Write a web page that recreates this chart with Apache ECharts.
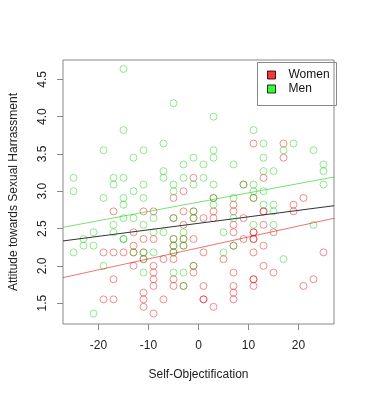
<!DOCTYPE html>
<html><head><meta charset="utf-8">
<script src="https://cdn.jsdelivr.net/npm/echarts@6/dist/echarts.min.js"></script>
<style>html,body{margin:0;padding:0;background:#fff}#c{width:365px;height:400px}</style>
</head><body><div id="c"></div>
<script>
const seriesNames = ['Women', 'Men'];
const womenPoints = [
  [11,3.64],[17,3.64],
  [17,3.45],
  [-1,3.18],[13,3.18],
  [9,3.09],
  [-3,3.00],
  [-5,2.91],[3,2.91],[11,2.91],[21,2.91],
  [7,2.82],[19,2.82],
  [-17,2.73],[-11,2.73],[-9,2.73],[-3,2.73],[-1,2.73],[3,2.73],[7,2.73],[13,2.73],[13,2.73],[19,2.73],
  [-5,2.64],[-1,2.64],[1,2.64],[3,2.64],[9,2.64],
  [-3,2.55],[7,2.55],[13,2.55],
  [-13,2.45],[7,2.45],[11,2.45],[11,2.45],[15,2.45],
  [-11,2.36],[-9,2.36],[-5,2.36],[-3,2.36],[-1,2.36],[9,2.36],[11,2.36],[11,2.36],
  [-13,2.27],[-5,2.27],[-3,2.27],[7,2.27],[13,2.27],
  [-19,2.18],[-17,2.18],[-15,2.18],[-13,2.18],[-11,2.18],[-5,2.18],[1,2.18],[11,2.18],[25,2.18],
  [-11,2.09],[-7,2.09],[-5,2.09],[5,2.09],
  [-13,2.00],[-9,2.00],[-1,2.00],[13,2.00],
  [-9,1.91],[-1,1.91],[7,1.91],[15,1.91],
  [-17,1.82],[-9,1.82],[-5,1.82],[11,1.82],[11,1.82],[23,1.82],
  [-9,1.73],[-5,1.73],[-3,1.73],[1,1.73],[7,1.73],[11,1.73],[21,1.73],
  [-11,1.64],[7,1.64],
  [-19,1.55],[-17,1.55],[-11,1.55],[-7,1.55],[1,1.55],[1,1.55],[7,1.55],
  [-11,1.45],[3,1.45],
  [-9,1.36]
];
const menPoints = [
  [-15,4.64],
  [-5,4.18],
  [3,4.00],
  [-15,3.82],[11,3.82],
  [-7,3.64],[13,3.64],[19,3.64],
  [-19,3.55],[-11,3.55],[3,3.55],[17,3.55],[23,3.55],
  [-13,3.45],[-1,3.45],[3,3.45],[13,3.45],
  [-3,3.36],[1,3.36],[7,3.36],[25,3.36],
  [-7,3.27],[13,3.27],[15,3.27],[25,3.27],
  [-25,3.18],[-17,3.18],[-15,3.18],[-7,3.18],[-3,3.18],[1,3.18],
  [-17,3.09],[-11,3.09],[-5,3.09],[-1,3.09],[3,3.09],[9,3.09],[11,3.09],[25,3.09],
  [-25,3.00],[-13,3.00],[-5,3.00],[11,3.00],[13,3.00],
  [-19,2.91],[-15,2.91],[-11,2.91],[3,2.91],[7,2.91],[11,2.91],
  [-15,2.82],[3,2.82],[13,2.82],[15,2.82],
  [-1,2.73],[15,2.73],
  [-15,2.64],[-13,2.64],[-9,2.64],[-5,2.64],[-1,2.64],[7,2.64],
  [-17,2.55],[-11,2.55],[11,2.55],[15,2.55],[23,2.55],
  [-21,2.45],[-17,2.45],[-9,2.45],[-7,2.45],[-3,2.45],[5,2.45],
  [-23,2.36],[-15,2.36],[-15,2.36],[-5,2.36],[-3,2.36],
  [-23,2.27],[-21,2.27],[-5,2.27],[-3,2.27],[7,2.27],
  [-25,2.18],[-13,2.18],[-11,2.18],[-9,2.18],[-5,2.18],[5,2.18],
  [-11,2.09],[17,2.09],
  [-19,2.00],[-1,2.00],
  [-11,1.91],[-5,1.91],[-3,1.91],
  [-3,1.73],
  [-21,1.36]
];
const xTicks = [-20, -10, 0, 10, 20];
const yTicks = [1.5, 2.0, 2.5, 3.0, 3.5, 4.0, 4.5];
const xRange = [-27.1, 27.1];
const yRange = [1.22, 4.76];
const fitNames = ['fitAll', 'fitWomen', 'fitMen'];
const fitIntercepts = [2.570, 2.240, 2.854];
const fitSlopes = [0.00871, 0.01468, 0.01244];
const fitColors = ['#333333', 'rgba(225,0,0,0.55)', 'rgba(0,205,0,0.55)'];
const xTitle = 'Self-Objectification';
const yTitle = 'Attitude towards Sexual Harrassment';

const FONT = '"Liberation Sans", Arial, sans-serif';
const chart = echarts.init(document.getElementById('c'), null, {renderer: 'canvas'});

const fitSeries = fitNames.map((n, i) => ({
  name: n, type: 'line', silent: true, symbol: 'none', animation: false,
  lineStyle: {color: fitColors[i], width: 1},
  data: xRange.map(x => [x, fitIntercepts[i] + fitSlopes[i] * x]),
  z: 3
}));

chart.setOption({
  animation: false,
  backgroundColor: '#fff',
  grid: {left: 60, top: 60, width: 274, height: 264, show: true, borderColor: '#888', borderWidth: 1},
  xAxis: {
    type: 'value', min: xRange[0], max: xRange[1],
    name: xTitle, nameLocation: 'middle', nameGap: 45,
    nameTextStyle: {fontSize: 12, color: '#222', fontFamily: FONT},
    axisLine: {show: false, onZero: false},
    splitLine: {show: false},
    axisTick: {show: true, length: 6, customValues: xTicks, lineStyle: {color: '#888'}},
    axisLabel: {customValues: xTicks, margin: 16, fontSize: 12, color: '#222', fontFamily: FONT}
  },
  yAxis: {
    type: 'value', min: yRange[0], max: yRange[1],
    name: yTitle, nameLocation: 'middle', nameGap: 43, nameRotate: 90,
    nameTextStyle: {fontSize: 12, color: '#222', fontFamily: FONT},
    axisLine: {show: false, onZero: false},
    splitLine: {show: false},
    axisTick: {show: true, length: 6, customValues: yTicks, lineStyle: {color: '#888'}},
    axisLabel: {customValues: yTicks, margin: 14, rotate: 90, fontSize: 12, color: '#222', fontFamily: FONT,
      formatter: v => Number(v).toFixed(1)}
  },
  legend: {
    orient: 'vertical', left: 267, top: 68, padding: 0, itemGap: 0,
    itemWidth: 8, itemHeight: 8, icon: 'rect', selectedMode: false,
    textStyle: {fontSize: 12, color: '#111', fontFamily: FONT, lineHeight: 14, padding: [0, 0, 0, 8]},
    data: [
      {name: seriesNames[0], itemStyle: {color: '#ff0000', borderColor: '#000', borderWidth: 1}},
      {name: seriesNames[1], itemStyle: {color: '#00ff00', borderColor: '#000', borderWidth: 1}}
    ]
  },
  graphic: [{
    type: 'rect', left: 255, top: 60, z: 10, silent: true,
    shape: {width: 79, height: 43},
    style: {fill: 'none', stroke: '#888', lineWidth: 1}
  }],
  series: [
    {name: seriesNames[0], type: 'scatter', symbol: 'circle', symbolSize: 7, silent: true,
     itemStyle: {color: 'rgba(0,0,0,0)', borderColor: 'rgba(225,0,0,0.55)', borderWidth: 1},
     data: womenPoints, z: 2},
    {name: seriesNames[1], type: 'scatter', symbol: 'circle', symbolSize: 7, silent: true,
     itemStyle: {color: 'rgba(0,0,0,0)', borderColor: 'rgba(0,205,0,0.55)', borderWidth: 1},
     data: menPoints, z: 2}
  ].concat(fitSeries)
});
</script></body></html>
